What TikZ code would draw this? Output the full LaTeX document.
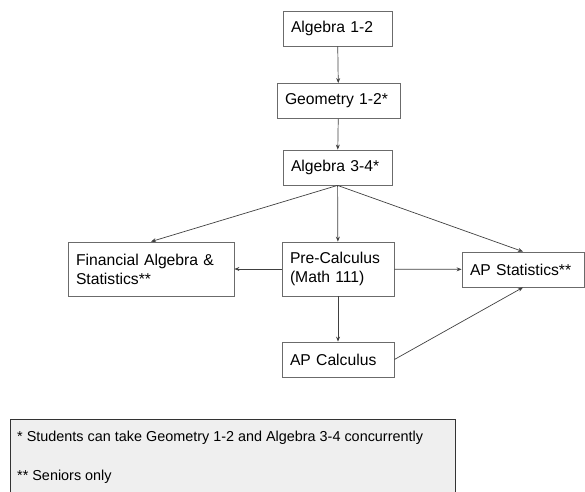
\documentclass[tikz,border=0pt]{standalone}
\usepackage{fontspec}
\setmainfont{Liberation Sans}
\usetikzlibrary{arrows.meta}

\definecolor{boxline}{HTML}{6B6B6B}
\definecolor{notefill}{HTML}{EFEFEF}

\tikzset{
  course/.style={draw=boxline, line width=0.8bp, inner xsep=8bp, inner ysep=2bp,
    align=left, text width=#1bp-16bp, minimum height=35bp,
    font=\fontsize{15.7bp}{19bp}\selectfont},
  link/.style={draw=black!75, line width=0.7bp, -{Stealth[length=5bp,width=4bp]}},
  note/.style={anchor=west, inner sep=0pt, font=\fontsize{14.4bp}{17bp}\selectfont}
}

\begin{document}
\begin{tikzpicture}[x=1bp,y=-1bp]
\useasboundingbox (0,0) rectangle (585,492);
% course boxes
\node[course=109] (alg12) at (337.5,28.5) {Algebra 1-2};
\node[course=123] (geo) at (338.5,101) {Geometry 1-2*};
\node[course=109] (alg34) at (337.5,167.5) {Algebra 3-4*};
\node[course=166, minimum height=54bp] (fin) at (151,269) {Financial Algebra \&\\Statistics**};
\node[course=112, minimum height=54bp] (pre) at (338,269) {Pre-Calculus\\(Math 111)};
\node[course=122] (aps) at (523,269.5) {AP Statistics**};
\node[course=112] (apc) at (338,359.5) {AP Calculus};
% arrows
\draw[link] (alg12) -- (geo);
\draw[link] (geo) -- (alg34);
\draw[link] (alg34.south) -- (fin.north);
\draw[link] (alg34) -- (pre);
\draw[link] (alg34.south) -- (aps.north);
\draw[link] (pre) -- (fin);
\draw[link] (pre) -- (aps);
\draw[link] (pre) -- (apc);
\draw[link] (apc.east) -- (aps.south);
% footnotes
\fill[notefill] (10,419) rectangle (455,492);
\draw[black!80, line width=0.9bp] (10,492) -- (10,419) -- (455,419) -- (455,492);
\node[note] (star1) at (17,438) {* Students can take Geometry 1-2 and Algebra 3-4 concurrently};
\node[note] (star2) at (17,477) {** Seniors only};
\end{tikzpicture}
\end{document}
